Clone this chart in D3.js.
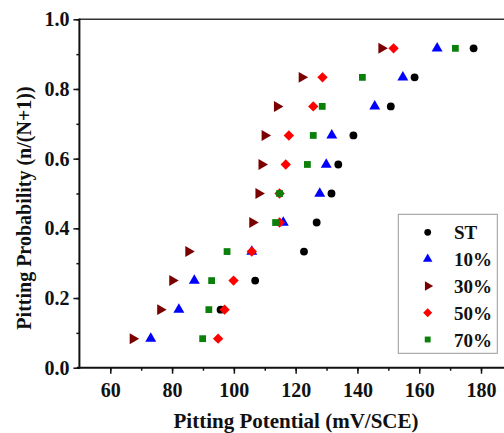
<!DOCTYPE html>
<html><head><meta charset="utf-8">
<script src="https://cdn.jsdelivr.net/npm/d3@7/dist/d3.min.js"></script>
<style>body{margin:0;background:#fff;}svg{display:block;}</style>
</head><body>
<svg id="c" width="504" height="433"></svg>
<script>
const probLevels = [1/12,2/12,3/12,4/12,5/12,6/12,7/12,8/12,9/12,10/12,11/12];
const seriesNames = ["ST","10%","30%","50%","70%"];
const stValues  = [null,95.7,106.9,122.7,126.8,131.6,133.8,138.7,150.8,158.5,177.6];
const p10Values = [73.1,82.2,87.2,105.8,116.0,127.8,129.9,131.7,145.6,154.7,165.8];
const p30Values = [67.3,76.2,80.1,85.3,106.0,108.0,109.0,110.0,114.0,122.0,147.8];
const p50Values = [94.9,97.0,99.9,105.8,114.8,114.8,116.8,117.8,125.7,128.7,151.7];
const p70Values = [89.9,91.9,92.8,97.8,113.5,114.8,123.8,125.7,128.6,141.6,171.7];
const xTicks = [60,80,100,120,140,160,180];
const yTicks = [0.0,0.2,0.4,0.6,0.8,1.0];

const colors = ["#000000","#0000ff","#7a0000","#ff0000","#0a7f0a"];
const shapes = [d3.symbolCircle, d3.symbolTriangle, d3.symbolTriangle, d3.symbolSquare, d3.symbolSquare];
const rotations = [0, 0, 90, 45, 0];
const sizes = [48, 52, 52, 54, 46];
const allValues = [stValues,p10Values,p30Values,p50Values,p70Values];

const svg = d3.select("#c");
const x = d3.scaleLinear().domain([50,190]).range([79.4, 511.9]);
const y = d3.scaleLinear().domain([0,1]).range([367.7, 19.3]);
const font = "'Liberation Serif','Times New Roman',serif";

function symPath(i, s){ return d3.symbol(shapes[i]).size(s)(); }
function symTransform(i, cx, cy){ return `translate(${cx},${cy}) rotate(${rotations[i]})`; }

// top frame
svg.append("line").attr("x1",79.4).attr("x2",504).attr("y1",19.3).attr("y2",19.3)
  .attr("stroke","#333").attr("stroke-width",1.6);

// x axis
const xAxisG = svg.append("g").attr("transform","translate(0,367.7)");
xAxisG.call(d3.axisBottom(x).tickValues(d3.range(60,190,10)).tickSize(3).tickFormat(""));
xAxisG.call(g=>g.select(".domain").remove());
xAxisG.selectAll(".tick line").attr("stroke","#111").attr("stroke-width",1.5);
const xMaj = svg.append("g").attr("transform","translate(0,367.7)")
  .call(d3.axisBottom(x).tickValues(xTicks).tickSize(6).tickPadding(9).tickFormat(d3.format("d")));
xMaj.select(".domain").remove();
xMaj.selectAll(".tick line").attr("stroke","#111").attr("stroke-width",1.5);
xMaj.selectAll("text").attr("font-family",font).attr("font-weight","bold").attr("font-size",20).attr("fill","#111");
svg.append("line").attr("x1",77).attr("x2",504).attr("y1",367.7).attr("y2",367.7).attr("stroke","#111").attr("stroke-width",2);

// y axis
const yMin = svg.append("g").attr("transform","translate(79.4,0)")
  .call(d3.axisLeft(y).tickValues(d3.range(0,1.01,0.1)).tickSize(3).tickFormat(""));
yMin.select(".domain").remove();
yMin.selectAll(".tick line").attr("stroke","#111").attr("stroke-width",1.5);
const yMaj = svg.append("g").attr("transform","translate(79.4,0)")
  .call(d3.axisLeft(y).tickValues(yTicks).tickSize(6).tickPadding(4).tickFormat(d3.format(".1f")));
yMaj.select(".domain").remove();
yMaj.selectAll(".tick line").attr("stroke","#111").attr("stroke-width",1.5);
yMaj.selectAll("text").attr("font-family",font).attr("font-weight","bold").attr("font-size",20).attr("fill","#111");
svg.append("line").attr("x1",79.4).attr("x2",79.4).attr("y1",18.5).attr("y2",368.7).attr("stroke","#111").attr("stroke-width",2);

// points
allValues.forEach((vals,i)=>{
  const g = svg.append("g");
  vals.forEach((v,k)=>{
    if (v==null) return;
    g.append("path").attr("d",symPath(i,sizes[i]))
      .attr("transform",symTransform(i,x(v),y(probLevels[k])))
      .attr("fill",colors[i]);
  });
});

// legend
const lg = svg.append("g");
lg.append("rect").attr("x",398.3).attr("y",214.3).attr("width",99).attr("height",139)
  .attr("fill","#fff").attr("stroke","#999").attr("stroke-width",1);
seriesNames.forEach((n,i)=>{
  const cy = 232.3 + i*26.8;
  lg.append("path").attr("d",symPath(i,sizes[i]*0.75))
    .attr("transform",symTransform(i,427.7,cy)).attr("fill",colors[i]);
  lg.append("text").attr("x",454).attr("y",cy+7).text(n)
    .attr("font-family",font).attr("font-weight","bold").attr("font-size",19).attr("fill","#111");
});

// axis titles
svg.append("text").attr("x",296).attr("y",428).attr("text-anchor","middle")
  .attr("font-family",font).attr("font-weight","bold").attr("font-size",21).attr("fill","#111")
  .text("Pitting Potential (mV/SCE)");
svg.append("text").attr("transform","translate(31,208) rotate(-90)").attr("text-anchor","middle")
  .attr("font-family",font).attr("font-weight","bold").attr("font-size",20).attr("fill","#111")
  .text("Pitting Probability (n/(N+1))");
</script>
</body></html>
